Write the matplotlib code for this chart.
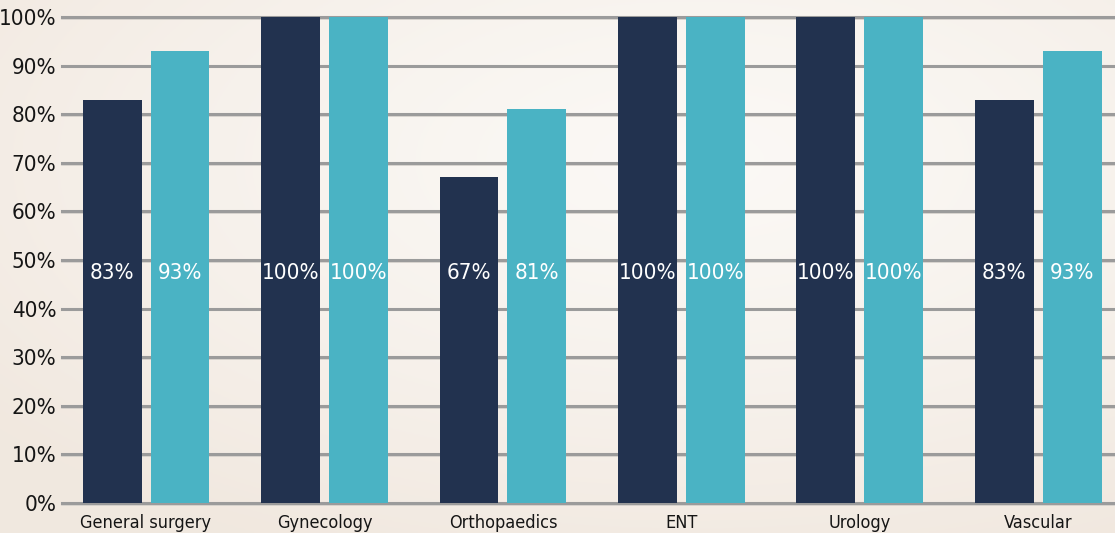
import numpy as np
import matplotlib.pyplot as plt

categories = ['General surgery', 'Gynecology', 'Orthopaedics', 'ENT', 'Urology', 'Vascular']
series_a = [83, 100, 67, 100, 100, 83]
series_b = [93, 100, 81, 100, 100, 93]
ticks = list(range(0, 101, 10))

navy = '#22324f'
teal = '#4ab3c4'

plt.rcParams['font.family'] = ['DejaVu Sans']
plt.rcParams['font.stretch'] = 'condensed'

fig = plt.figure(figsize=(11.15, 5.33), dpi=100)

# background gradient
bg = fig.add_axes([0, 0, 1, 1], zorder=-10)
h, w = 200, 400
yy, xx = np.mgrid[0:h, 0:w]
d = np.sqrt(((xx - w * 0.62) / w) ** 2 + ((yy - h * 0.3) / h) ** 2)
d = np.clip(d / 0.8, 0, 1) ** 1.3
c0 = np.array([0.985, 0.975, 0.962])
c1 = np.array([0.945, 0.91, 0.875])
img = c0[None, None, :] * (1 - d[..., None]) + c1[None, None, :] * d[..., None]
bg.imshow(img, aspect='auto', extent=[0, 1, 0, 1])
bg.axis('off')

ax = fig.add_axes([62 / 1115, 30 / 533, 1 - 62 / 1115, (503 - 17) / 533])
ax.patch.set_alpha(0)
x = np.arange(len(categories))
bw = 0.33
off = 0.19

for t in ticks:
    ax.axhline(t - 0.35, color='#d4d0cb', lw=1.2, zorder=0, clip_on=False)
    ax.axhline(t, color='#9b9b9b', lw=2.2, zorder=1, clip_on=False)

ax.bar(x - off, series_a, bw, color=navy, zorder=2)
ax.bar(x + off, series_b, bw, color=teal, zorder=2)

for xi, a, b in zip(x, series_a, series_b):
    ax.text(xi - off, 47.3, f'{a}%', color='white', ha='center', va='center', fontsize=16, zorder=3)
    ax.text(xi + off, 47.3, f'{b}%', color='white', ha='center', va='center', fontsize=16, zorder=3)

ax.set_xlim(-0.471, 5.43)
ax.set_ylim(0, 100)
ax.set_yticks(ticks)
ax.set_yticklabels([f'{t}%' for t in ticks], fontsize=16, color='#151515')
ax.set_xticks(x)
ax.set_xticklabels(categories, fontsize=13, color='#151515')
ax.tick_params(length=0, pad=4)
ax.tick_params(axis='x', pad=8)
for s in ax.spines.values():
    s.set_visible(False)

fig.savefig('out.png', dpi=100)
